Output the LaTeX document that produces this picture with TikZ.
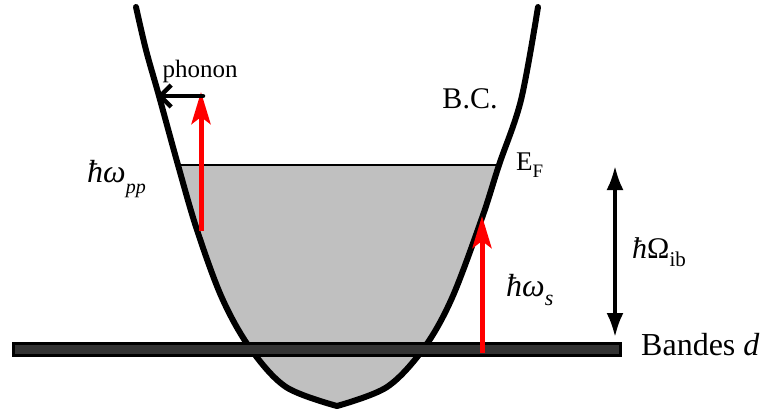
\documentclass[tikz,border=0pt]{standalone}
\usepackage{fontspec}
\setmainfont{Liberation Serif}
\usetikzlibrary{arrows.meta}
\definecolor{fillgray}{HTML}{C0C0C0}
\definecolor{bargray}{HTML}{333333}
\definecolor{arrred}{HTML}{FF0000}
\begin{document}
\begin{tikzpicture}[x=1pt,y=-1pt,
  bowl/.style={insert path={plot[smooth,tension=0.55] coordinates {(136,7) (146,50) (159,96) (178,165) (197,230) (222,298) (250,348) (286,387) (337,406)}
     -- plot[smooth,tension=0.55] coordinates {(337,406) (387,387) (424,348) (452,298) (482,218) (499,165) (521,100) (538,7)}}},
  curve/.style={draw=black,line width=6pt,line join=round,line cap=round},
  redarrow/.style={draw=arrred,line width=5pt,-{Stealth[length=32pt,width=19pt,inset=7pt]}},
  lbl/.style={inner sep=0pt,font=\fontsize{30}{32}\selectfont},
  barbox/.style={draw=black,line width=3pt,fill=bargray,minimum width=607pt,minimum height=12pt,inner sep=0pt}
]
\useasboundingbox (0,0) rectangle (766,412);
% filled sea below E_F
\begin{scope}
  \clip (0,165) rectangle (766,412);
  \fill[fillgray,bowl];
\end{scope}
\coordinate (efL) at (178,165);
\coordinate (efR) at (499,165);
\draw[line width=1.5pt] (efL) -- (efR);
% band curve
\path[curve,bowl];
% d bands
\node[barbox] (bar) at (317,349) {};
\node[lbl,anchor=west,font=\fontsize{32}{34}\selectfont] (bandes) at (641,345) {Bandes \textit{d}};
% labels
\node[lbl,font=\fontsize{25}{27}\selectfont] (phonon) at (200,71) {phonon};
\node[lbl] (bc) at (470,99) {B.C.};
\node[lbl,anchor=west,font=\fontsize{27}{29}\selectfont] (ef) at (516,165) {E\raisebox{-0.25em}{\fontsize{19}{21}\selectfont F}};
\node[lbl,anchor=west,font=\fontsize{32}{34}\selectfont] (wpp) at (87,179) {\textit{ħω}\raisebox{-0.35em}{\fontsize{20}{22}\selectfont\textit{pp}}};
\node[lbl,anchor=west,font=\fontsize{32}{34}\selectfont] (ws) at (506,290) {\textit{ħω}\raisebox{-0.3em}{\fontsize{22}{24}\selectfont\textit{s}}};
\node[lbl,anchor=west,font=\fontsize{30}{32}\selectfont] (wib) at (632,252) {\textit{ħ}Ω\raisebox{-0.25em}{\fontsize{21}{23}\selectfont ib}};
% arrows
\coordinate (l0) at (201,231);
\coordinate (l1) at (201,92);
\coordinate (ph0) at (203,96);
\coordinate (ph) at (157,96);
\coordinate (r0) at (482,352.5);
\coordinate (r1) at (482,216);
\coordinate (o0) at (615,166);
\coordinate (o1) at (615,337);
\draw[redarrow] (l0) -- (l1);
\draw[line width=4.5pt,line cap=round,-{Straight Barb[length=11pt,width=22pt,line width=4.5pt]}] (ph0) -- (ph);
\draw[redarrow] (r0) -- (r1);
\draw[line width=3.5pt,{Latex[length=24pt,width=17pt]}-{Latex[length=24pt,width=17pt]}] (o0) -- (o1);
\end{tikzpicture}
\end{document}
